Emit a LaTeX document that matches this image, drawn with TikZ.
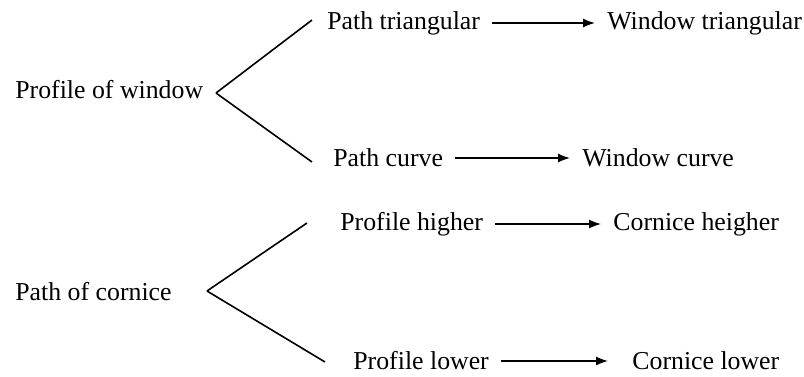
\documentclass[tikz,border=0pt]{standalone}
\usepackage{fontspec}
\setmainfont{Liberation Serif}
\usepackage{tikz}
\usetikzlibrary{arrows.meta}

\begin{document}
\begin{tikzpicture}[
    x=0.5pt, y=-0.5pt,
    item/.style={anchor=west, inner xsep=6pt, inner ysep=0pt, font=\fontsize{12.9}{15}\selectfont},
    branch/.style={line width=0.8pt},
    arrow/.style={line width=0.8pt, -{Latex[length=6pt, width=4.6pt]}}
]

% Frame
\useasboundingbox (0,0) rectangle (804,376);

% ===== PROFILE OF WINDOW =====
\node[item] (window) at (3, 90) {Profile of window};
\coordinate (vw) at (216, 93);
\node[item] (ptri) at (315, 23) {Path triangular};
\node[item] (wtri) at (595, 23) {Window triangular};
\node[item] (pcurve) at (321, 158) {Path curve};
\node[item] (wcurve) at (570, 158) {Window curve};

% ===== PATH OF CORNICE =====
\node[item] (cornice) at (3, 292) {Path of cornice};
\coordinate (vc) at (207, 291);
\node[item] (phigh) at (328, 224) {Profile higher};
\node[item] (chigh) at (601, 224) {Cornice heigher};
\node[item] (plow) at (341, 361) {Profile lower};
\node[item] (clow) at (620, 361) {Cornice lower};

% ===== BRANCHES =====
\draw[branch] (vw) -- ([xshift=-1.5pt, yshift=1.5pt]ptri.west);
\draw[branch] (vw) -- ([xshift=-4.5pt, yshift=-2pt]pcurve.west);
\draw[branch] (vc) -- ([xshift=-10.5pt, yshift=0.5pt]phigh.west);
\draw[branch] (vc) -- ([xshift=-8pt, yshift=-0.5pt]plow.west);

% ===== ARROWS =====
\draw[arrow] (ptri) -- (wtri);
\draw[arrow] (pcurve) -- (wcurve);
\draw[arrow] (phigh) -- (chigh);
\draw[arrow, shorten >=6pt] (plow) -- (clow);

\end{tikzpicture}
\end{document}
